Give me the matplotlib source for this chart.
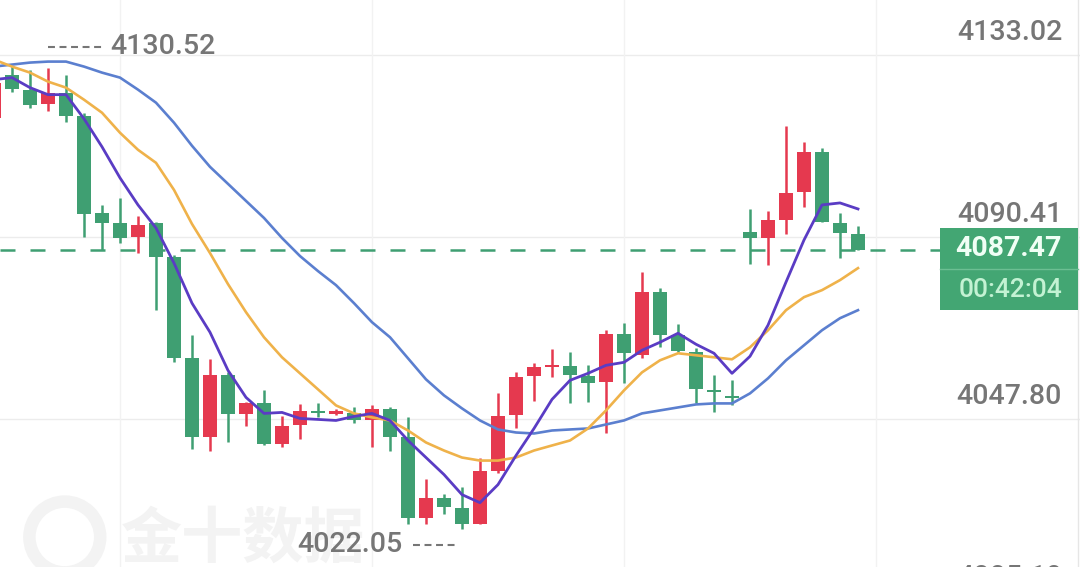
import numpy as np
import matplotlib.pyplot as plt
from matplotlib.transforms import blended_transform_factory
from matplotlib.patches import Rectangle

# candle data (oldest first, first candle is cut by the left edge)
opens = [4118.3, 4128.43, 4124.91, 4121.63, 4124.21, 4118.81, 4096.04, 4093.70, 4090.41, 4093.70,
         4085.72, 4062.01, 4043.47, 4058.02, 4048.87, 4051.45, 4042.06, 4046.29, 4049.57, 4048.87,
         4049.11, 4047.46, 4050.04, 4043.47, 4024.69, 4029.39, 4027.04, 4023.28, 4035.72, 4048.64,
         4057.79, 4059.90, 4060.13, 4057.79, 4056.38, 4067.65, 4062.72, 4077.50, 4067.41, 4063.42,
         4054.50, 4053.09, 4091.58, 4090.18, 4094.40, 4100.97, 4110.36, 4093.70, 4091.11]
highs = [4127.3, 4130.52, 4129.6, 4129.9, 4128.43, 4119.51, 4097.92, 4099.56, 4095.34, 4093.93,
         4086.18, 4067.41, 4061.78, 4058.72, 4051.68, 4054.50, 4048.40, 4051.21, 4051.45, 4050.04,
         4050.51, 4050.98, 4050.51, 4048.17, 4033.85, 4030.33, 4031.97, 4038.78, 4053.80, 4058.72,
         4060.84, 4064.12, 4063.42, 4060.37, 4068.58, 4070.23, 4082.20, 4078.44, 4070.00, 4064.36,
         4058.02, 4056.85, 4096.98, 4096.51, 4116.46, 4112.71, 4111.30, 4096.04, 4092.99]
lows = [4118.0, 4124.44, 4120.69, 4119.98, 4117.40, 4090.41, 4087.36, 4089.00, 4086.65, 4073.28,
        4061.07, 4040.89, 4040.42, 4042.30, 4046.05, 4041.83, 4041.13, 4043.23, 4048.17, 4048.64,
        4046.76, 4041.36, 4040.42, 4023.28, 4023.28, 4025.63, 4022.05, 4023.28, 4035.25, 4045.58,
        4051.92, 4057.55, 4051.45, 4051.68, 4044.64, 4056.14, 4062.01, 4064.59, 4063.42, 4051.45,
        4049.34, 4050.98, 4084.07, 4083.84, 4091.11, 4097.45, 4093.93, 4085.48, 4087.47]
closes = [4126.5, 4125.15, 4121.39, 4124.21, 4118.81, 4095.81, 4093.70, 4090.18, 4093.23, 4085.72,
          4062.01, 4043.47, 4058.02, 4048.87, 4051.45, 4042.06, 4046.05, 4049.57, 4049.11, 4049.57,
          4047.46, 4050.04, 4043.70, 4024.69, 4029.39, 4027.27, 4023.28, 4035.72, 4048.40, 4057.55,
          4059.90, 4060.13, 4058.02, 4056.14, 4067.65, 4063.19, 4077.50, 4067.41, 4063.65, 4054.74,
          4054.03, 4052.62, 4090.18, 4094.40, 4100.74, 4110.36, 4093.93, 4091.35, 4087.47]

# moving average lines
ma_short = [4127.26, 4127.73, 4125.38, 4123.74, 4123.74, 4118.10, 4111.53, 4104.26, 4097.92, 4092.52,
            4084.31, 4074.92, 4068.11, 4059.19, 4052.86, 4049.11, 4049.34, 4047.93, 4047.70, 4047.46,
            4048.40, 4049.11, 4047.46, 4042.77, 4038.78, 4034.79, 4030.09, 4028.21, 4032.44, 4039.25,
            4045.58, 4052.39, 4056.85, 4058.49, 4060.37, 4061.07, 4063.89, 4065.77, 4067.88, 4065.30,
            4063.19, 4058.49, 4062.48, 4069.76, 4079.85, 4089.71, 4097.92, 4098.39, 4096.98]
ma_mid = [4131.95, 4130.31, 4128.90, 4126.79, 4125.38, 4122.56, 4119.51, 4114.82, 4110.83, 4107.78,
          4101.44, 4093.46, 4086.65, 4079.38, 4072.81, 4066.94, 4062.25, 4058.49, 4054.74, 4050.98,
          4049.11, 4048.17, 4047.46, 4045.11, 4042.30, 4040.42, 4038.78, 4038.07, 4038.07, 4038.78,
          4040.42, 4041.60, 4042.77, 4045.58, 4049.81, 4054.50, 4058.72, 4061.54, 4063.19, 4062.72,
          4062.25, 4061.78, 4064.59, 4068.58, 4073.28, 4076.33, 4077.97, 4080.32, 4083.13]
ma_long = [4130.31, 4130.78, 4131.25, 4131.48, 4131.48, 4130.31, 4128.90, 4127.73, 4124.91, 4121.86,
           4117.17, 4111.77, 4106.84, 4102.85, 4098.86, 4094.87, 4090.18, 4085.95, 4082.43, 4079.14,
           4074.92, 4070.46, 4066.94, 4062.01, 4057.08, 4053.33, 4050.28, 4047.46, 4045.35, 4044.64,
           4044.41, 4045.11, 4045.35, 4045.58, 4046.52, 4047.46, 4049.11, 4049.81, 4050.51, 4051.21,
           4051.45, 4051.45, 4053.80, 4057.32, 4061.54, 4065.06, 4068.58, 4071.40, 4073.28]

tick_values = [4133.02, 4090.41, 4047.80, 4005.19]
last_price = 4087.47
countdown = '00:42:04'
high_mark = 4130.52
low_mark = 4022.05

RED = '#e5394f'
GREEN = '#3f9f72'
GRAY = '#767676'

plt.rcParams['lines.scale_dashes'] = False

fig = plt.figure(figsize=(10.8, 5.67), dpi=100)
ax = fig.add_axes([0, 0, 1, 1])
ymin, ymax = 4013.15, 4145.90
ax.set_xlim(1 / 3, 60 + 1 / 3)
ax.set_ylim(ymin, ymax)
ax.axis('off')

px_y = (ymax - ymin) / 567   # price per pixel
px_x = 1 / 18                # candle index per pixel
bl = blended_transform_factory(ax.transAxes, ax.transData)

# grid
for v in tick_values:
    ax.axhline(v, color='#ececec', lw=1, zorder=0)
for i in [7, 21, 35, 49]:
    ax.axvline(i, color='#f2f2f2', lw=1, zorder=0)
ax.plot([1078 / 1080] * 2, [0, 1], color='#e6e6e6', lw=1, transform=ax.transAxes)

# watermark
ax.text(0.112, ymin + 27 * px_y, '金十数据', transform=bl, fontsize=44, fontweight='bold',
        family=['Noto Sans CJK SC', 'DejaVu Sans'], color='#f3f3f3', va='center', ha='left', zorder=0.5)
ax.scatter([0.06], [ymin + 30 * px_y], s=2600, facecolors='none', edgecolors='#f3f3f3',
           linewidths=9, transform=bl, zorder=0.5)

# last price dashed line
ax.plot([0, 940 / 1080], [last_price] * 2, color=GREEN, lw=1.8, dashes=(10.8, 10.8),
        transform=bl, zorder=1.5)

# candles
o = np.array(opens)
c = np.array(closes)
x = np.arange(len(o))
cols = np.where(c >= o, RED, GREEN)
ax.vlines(x, lows, highs, colors=cols, lw=1.8, zorder=2)
ax.bar(x, np.maximum(np.abs(c - o), 0.5), 0.78, np.minimum(o, c), color=cols, lw=0, zorder=3)

# moving averages
ax.plot(x, ma_long, color='#5b7fcf', lw=1.9, zorder=4)
ax.plot(x, ma_mid, color='#efb24a', lw=1.9, zorder=4)
ax.plot(x, ma_short, color='#5a3cc4', lw=2.0, zorder=5)

# price labels on the right
for v in tick_values:
    ax.text(1062 / 1080, v + 23 * px_y, f'{v:.2f}', transform=bl, ha='right', va='center',
            fontsize=20.5, family='Roboto', fontweight='medium', color=GRAY)

# current price box
box_top = last_price + 21.5 * px_y
box_bot = last_price - 60.5 * px_y
ax.add_patch(Rectangle((940 / 1080, box_bot), 138 / 1080, box_top - box_bot, transform=bl,
                       color='#43a673', lw=0, zorder=6))
ax.plot([940 / 1080, 1078 / 1080], [last_price - 19 * px_y] * 2, color='#6cbf93', lw=1,
        transform=bl, zorder=7)
ax.text(1062 / 1080, last_price + 1.5 * px_y, f'{last_price:.2f}', transform=bl, ha='right',
        va='center', fontsize=20.5, family='Roboto', fontweight='bold', color='#f0fff5', zorder=7)
ax.text(1062 / 1080, last_price - 40.5 * px_y, countdown, transform=bl, ha='right',
        va='center', fontsize=19, family='Roboto', fontweight='medium', color='#c3f2d3', zorder=7)

# high / low markers
hi_i = int(np.argmax(highs))
lo_i = int(np.argmin(lows))
hy = high_mark + 19 * px_y
ax.plot([hi_i + 36 * px_x, hi_i + 90 * px_x], [hy, hy], color=GRAY, lw=1.5, dashes=(5, 3.3))
ax.text(hi_i + 98 * px_x, hy, f'{high_mark:.2f}', ha='left', va='center', fontsize=20.5,
        family='Roboto', fontweight='medium', color=GRAY)
ly = low_mark - 16 * px_y
ax.plot([lo_i - 49 * px_x, lo_i - 5 * px_x], [ly, ly], color=GRAY, lw=1.5, dashes=(5, 3.3))
ax.text(lo_i - 60 * px_x, ly, f'{low_mark:.2f}', ha='right', va='center', fontsize=20.5,
        family='Roboto', fontweight='medium', color=GRAY)

fig.savefig('out.png', dpi=100, facecolor='white')
